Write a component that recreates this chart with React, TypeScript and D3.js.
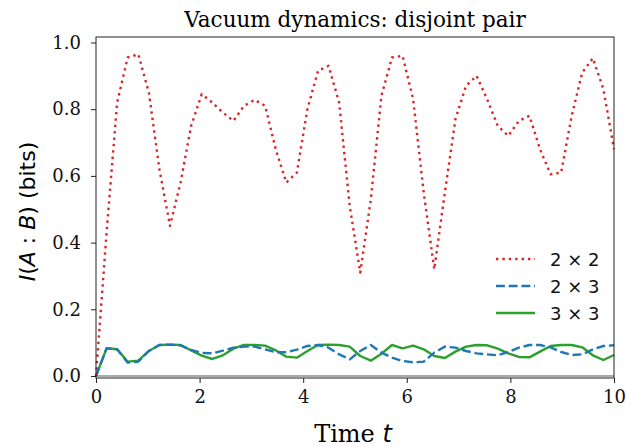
import { useEffect, useRef } from "react";
import * as d3 from "d3";

// 50 time samples, 0..10
const times = d3.range(50).map((i) => (i * 10) / 49);

const mi2x2 = [
  0, 0.43, 0.82, 0.955, 0.965, 0.85, 0.62, 0.45, 0.58, 0.75,
  0.845, 0.82, 0.79, 0.765, 0.81, 0.828, 0.81, 0.68, 0.58, 0.61,
  0.8, 0.915, 0.93, 0.82, 0.51, 0.31, 0.53, 0.84, 0.955, 0.96,
  0.83, 0.55, 0.32, 0.55, 0.77, 0.87, 0.9, 0.83, 0.75, 0.72,
  0.765, 0.78, 0.68, 0.605, 0.61, 0.78, 0.91, 0.953, 0.86, 0.68,
];

const mi2x3 = [
  0, 0.083, 0.08, 0.04, 0.043, 0.075, 0.093, 0.094, 0.092, 0.078,
  0.069, 0.068, 0.076, 0.085, 0.088, 0.088, 0.08, 0.071, 0.071, 0.079,
  0.09, 0.093, 0.085, 0.065, 0.05, 0.075, 0.093, 0.07, 0.055, 0.045,
  0.041, 0.043, 0.07, 0.088, 0.085, 0.075, 0.068, 0.065, 0.062, 0.072,
  0.085, 0.093, 0.093, 0.086, 0.072, 0.063, 0.065, 0.08, 0.09, 0.092,
];

const mi3x3 = [
  0, 0.083, 0.08, 0.043, 0.046, 0.075, 0.093, 0.094, 0.093, 0.077,
  0.061, 0.051, 0.062, 0.082, 0.093, 0.093, 0.091, 0.077, 0.058, 0.055,
  0.075, 0.093, 0.094, 0.093, 0.088, 0.06, 0.046, 0.067, 0.093, 0.083,
  0.091, 0.08, 0.06, 0.054, 0.073, 0.088, 0.093, 0.092, 0.082, 0.068,
  0.057, 0.056, 0.073, 0.09, 0.093, 0.093, 0.086, 0.062, 0.048, 0.063,
];

const seriesNames = ["2 × 2", "2 × 3", "3 × 3"];
const xTicks = [0, 2, 4, 6, 8, 10];
const yTicks = [0, 0.2, 0.4, 0.6, 0.8, 1.0];

export default function App() {
  const ref = useRef<SVGSVGElement>(null);

  useEffect(() => {
    const svg = d3.select(ref.current);
    svg.selectAll("*").remove();

    const left = 96, right = 614, top = 37, bottom = 378;
    const x = d3.scaleLinear().domain([0, 10]).range([left, right]);
    const y = d3.scaleLinear().domain([-0.006, 1.0165]).range([bottom, top]);

    const serif = "'DejaVu Serif', serif";
    const sans = "'DejaVu Sans', sans-serif";

    svg.append("rect").attr("width", 626).attr("height", 447).attr("fill", "#fff");

    // zero reference line
    svg
      .append("line")
      .attr("x1", left)
      .attr("x2", right)
      .attr("y1", y(0))
      .attr("y2", y(0))
      .attr("stroke", "#aaa")
      .attr("stroke-width", 1.8);

    const styles = [
      { data: mi2x2, color: "#d62728", dash: "2.4,4" },
      { data: mi2x3, color: "#1f77b4", dash: "8.9,3.8" },
      { data: mi3x3, color: "#2ca02c", dash: null },
    ];

    const line = d3
      .line<number>()
      .x((_, i) => x(times[i]))
      .y((d) => y(d));

    const plot = svg.append("g");
    [2, 1, 0].forEach((k) => {
      const s = styles[k];
      plot
        .append("path")
        .attr("d", line(s.data))
        .attr("fill", "none")
        .attr("stroke", s.color)
        .attr("stroke-width", 2.4)
        .attr("stroke-dasharray", s.dash)
        .attr("stroke-linejoin", "round");
    });

    // frame
    svg
      .append("rect")
      .attr("x", left)
      .attr("y", top)
      .attr("width", right - left)
      .attr("height", bottom - top)
      .attr("fill", "none")
      .attr("stroke", "#222")
      .attr("stroke-width", 1);

    // axes
    const xAxis = svg
      .append("g")
      .attr("transform", `translate(0,${bottom})`)
      .call(d3.axisBottom(x).tickValues(xTicks).tickSize(5).tickPadding(14).tickFormat(d3.format("d")));
    const yAxis = svg
      .append("g")
      .attr("transform", `translate(${left},0)`)
      .call(d3.axisLeft(y).tickValues(yTicks).tickSize(5).tickPadding(10).tickFormat(d3.format(".1f")));
    [xAxis, yAxis].forEach((a) => {
      a.select(".domain").remove();
      a.selectAll("line").attr("stroke", "#222");
      a.selectAll("text").attr("font-family", serif).attr("font-size", 18).attr("fill", "#111");
    });
    xAxis.selectAll("text").attr("dy", "0.35em");

    // title
    svg
      .append("text")
      .attr("x", (left + right) / 2)
      .attr("y", 27)
      .attr("text-anchor", "middle")
      .attr("font-family", serif)
      .attr("font-size", 21.5)
      .text("Vacuum dynamics: disjoint pair");

    // x label
    const xl = svg
      .append("text")
      .attr("x", (left + right) / 2 - 2)
      .attr("y", 442)
      .attr("text-anchor", "middle")
      .attr("font-family", serif)
      .attr("font-size", 24);
    xl.append("tspan").text("Time ");
    xl.append("tspan").attr("font-family", sans).attr("font-style", "italic").text("t");

    // y label
    const yl = svg
      .append("text")
      .attr("transform", `translate(35,${(top + bottom) / 2 + 4}) rotate(-90)`)
      .attr("text-anchor", "middle")
      .attr("font-family", sans)
      .attr("font-size", 22);
    yl.append("tspan").attr("font-style", "italic").text("I");
    yl.append("tspan").text("(");
    yl.append("tspan").attr("font-style", "italic").text("A");
    yl.append("tspan").text(" : ");
    yl.append("tspan").attr("font-style", "italic").text("B");
    yl.append("tspan").text(") (bits)");

    // legend
    const lg = svg.append("g");
    styles.forEach((s, i) => {
      const ly = 259 + i * 27;
      lg.append("line")
        .attr("x1", 496)
        .attr("x2", 535)
        .attr("y1", ly)
        .attr("y2", ly)
        .attr("stroke", s.color)
        .attr("stroke-width", 2.4)
        .attr("stroke-dasharray", s.dash);
      lg.append("text")
        .attr("x", 550)
        .attr("y", ly + 6.5)
        .attr("font-family", sans)
        .attr("font-size", 18)
        .attr("fill", "#111")
        .text(seriesNames[i]);
    });
  }, []);

  return (
    <svg
      ref={ref}
      width={626}
      height={447}
      style={{ position: "absolute", left: 0, top: 0 }}
    ></svg>
  );
}
